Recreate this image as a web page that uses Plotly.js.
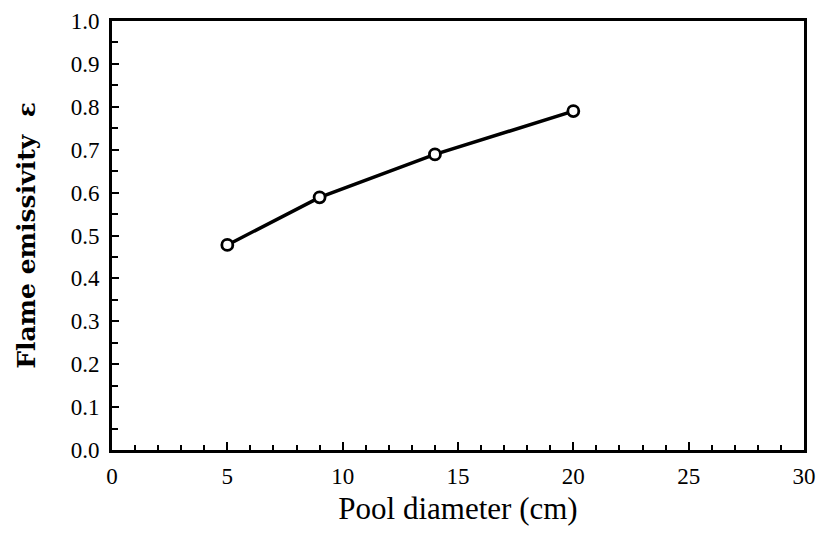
<!DOCTYPE html>
<html><head><meta charset="utf-8">
<script src="https://cdn.plot.ly/plotly-3.0.1.min.js"></script>
<style>html,body{margin:0;padding:0;background:#fff}</style>
</head><body>
<div id="chart" style="width:819px;height:538px"></div>
<script>
const poolDiameter = [5, 9, 14, 20];
const emissivity = [0.478, 0.589, 0.689, 0.79];
const xTickVals = [0, 5, 10, 15, 20, 25, 30];
const yTickVals = [0.0, 0.1, 0.2, 0.3, 0.4, 0.5, 0.6, 0.7, 0.8, 0.9, 1.0];
const yTickText = yTickVals.map(v => v.toFixed(1));

Plotly.newPlot('chart', [{
  x: poolDiameter, y: emissivity, type: 'scatter', mode: 'lines+markers',
  line: {color: '#000', width: 3.5},
  marker: {symbol: 'circle', size: 11, color: '#fff', line: {color: '#000', width: 2.8}},
  cliponaxis: false
}], {
  width: 819, height: 538,
  margin: {l: 112, r: 15, t: 21, b: 88},
  paper_bgcolor: '#fff', plot_bgcolor: '#fff',
  showlegend: false,
  font: {family: 'Liberation Serif, serif', color: '#000'},
  xaxis: {
    range: [0, 30], tickvals: xTickVals, ticks: 'inside', ticklen: 8, tickwidth: 2, tickcolor: '#000',
    minor: {dtick: 1, ticks: 'inside', ticklen: 5, tickwidth: 2, tickcolor: '#000'},
    showline: true, linewidth: 3, linecolor: '#000', mirror: true, showgrid: false, zeroline: false,
    ticklabelstandoff: 3,
    tickfont: {size: 23, family: 'Liberation Serif, serif'},
    title: {text: 'Pool diameter (cm)', font: {size: 31, family: 'Liberation Serif, serif'}, standoff: 10}
  },
  yaxis: {
    range: [0, 1.0], tickvals: yTickVals, ticktext: yTickText, ticks: 'inside', ticklen: 7, tickwidth: 2, tickcolor: '#000',
    minor: {dtick: 0.05, ticks: 'inside', ticklen: 6, tickwidth: 2, tickcolor: '#000'},
    showline: true, linewidth: 3, linecolor: '#000', mirror: true, showgrid: false, zeroline: false,
    ticklabelstandoff: 5,
    tickfont: {size: 23, family: 'Liberation Serif, serif'},
    title: {text: '<b>Flame emissivity  ε</b>', font: {size: 25, family: 'DejaVu Serif, serif'}, standoff: 28}
  }
}, {displayModeBar: false, staticPlot: true});
</script>
</body></html>
